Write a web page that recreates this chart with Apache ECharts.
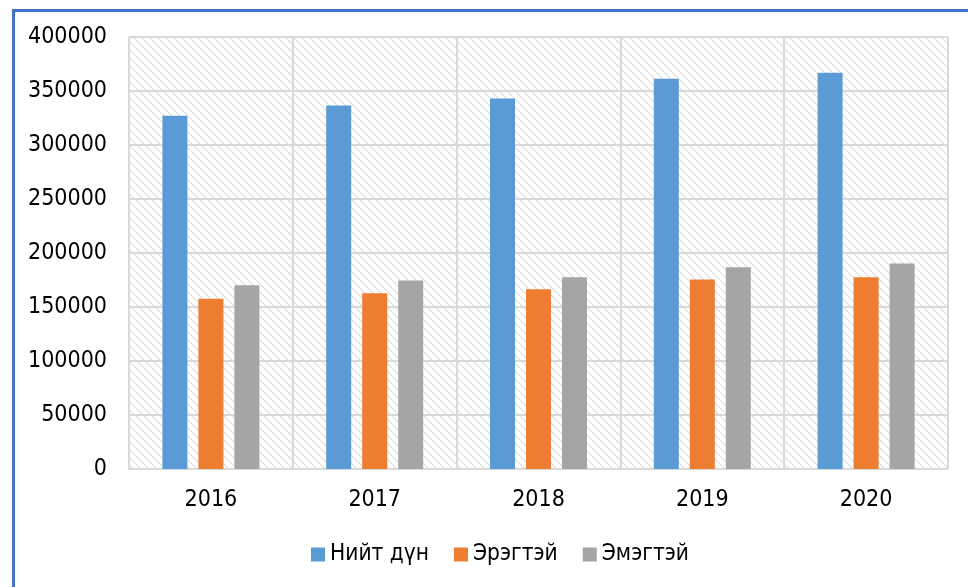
<!DOCTYPE html>
<html>
<head>
<meta charset="utf-8">
<script src="https://cdn.jsdelivr.net/npm/echarts@6/dist/echarts.min.js"></script>
<style>
  html, body { margin: 0; padding: 0; background: #fff; }
  #chart { width: 968px; height: 587px; }
</style>
</head>
<body>
<div id="chart"></div>
<script>
var years = ['2016', '2017', '2018', '2019', '2020'];
var seriesNames = ['Нийт дүн', 'Эрэгтэй', 'Эмэгтэй'];
var total = [327000, 336500, 343000, 361300, 367000];
var male = [157600, 162800, 166500, 175500, 177600];
var female = [170200, 174500, 177600, 186900, 190300];
var yTicks = { min: 0, max: 400000, interval: 50000 };

var fontFam = '"DejaVu Sans Condensed", "Noto Sans", sans-serif';

// diagonal hatch for the plot background
var hatch = document.createElement('canvas');
hatch.width = 8;
hatch.height = 8;
var ctx = hatch.getContext('2d');
ctx.fillStyle = '#ffffff';
ctx.fillRect(0, 0, 8, 8);
ctx.strokeStyle = '#dcdcdc';
ctx.lineWidth = 1.1;
ctx.beginPath();
ctx.moveTo(-1, -1); ctx.lineTo(9, 9);
ctx.stroke();

var myChart = echarts.init(document.getElementById('chart'));

var option = {
  animation: false,
  backgroundColor: '#ffffff',
  color: ['#5B9BD5', '#ED7D31', '#A5A5A5'],
  textStyle: { fontFamily: fontFam },
  grid: {
    left: 129,
    right: 20,
    top: 37,
    bottom: 118,
    show: true,
    borderWidth: 0,
    backgroundColor: { image: hatch, repeat: 'repeat' }
  },
  graphic: [{
    type: 'rect',
    shape: { x: 13.5, y: 10.5, width: 1200, height: 1200 },
    style: { fill: 'none', stroke: '#4472C4', lineWidth: 3 },
    z: 100
  }],
  legend: {
    data: seriesNames,
    left: 306,
    top: 538,
    itemWidth: 14,
    itemHeight: 14,
    itemGap: 25,
    icon: 'rect',
    textStyle: { fontSize: 22.5, color: '#000', fontFamily: fontFam }
  },
  xAxis: {
    type: 'category',
    data: years,
    axisTick: { show: false },
    axisLine: { lineStyle: { color: '#d9d9d9', width: 2 } },
    splitLine: { show: true, lineStyle: { color: '#d9d9d9', width: 2 } },
    axisLabel: { fontSize: 23, color: '#000', margin: 20, fontFamily: fontFam }
  },
  yAxis: {
    type: 'value',
    min: yTicks.min,
    max: yTicks.max,
    interval: yTicks.interval,
    axisLine: { show: false },
    axisTick: { show: false },
    splitLine: { lineStyle: { color: '#d9d9d9', width: 2 } },
    axisLabel: {
      fontSize: 23, color: '#000', margin: 22, fontFamily: fontFam,
      formatter: function (v) { return String(v); }
    }
  },
  series: [
    { name: seriesNames[0], type: 'bar', data: total, barWidth: 25, barGap: '44%' },
    { name: seriesNames[1], type: 'bar', data: male, barWidth: 25, barGap: '44%' },
    { name: seriesNames[2], type: 'bar', data: female, barWidth: 25, barGap: '44%' }
  ]
};

myChart.setOption(option);
</script>
</body>
</html>
